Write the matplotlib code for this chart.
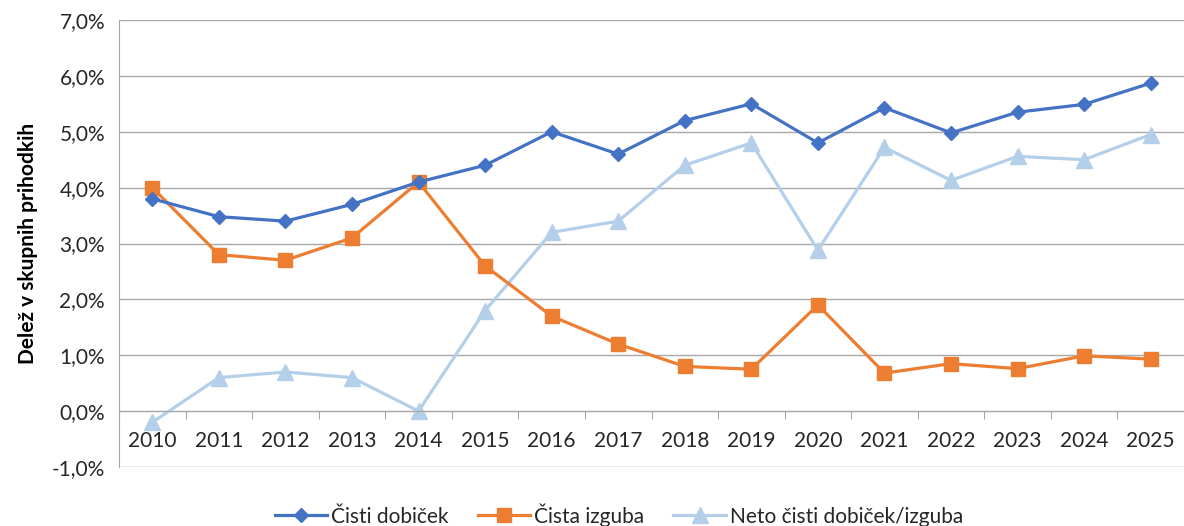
import numpy as np
import matplotlib.pyplot as plt
from matplotlib.ticker import FixedLocator, FuncFormatter

plt.rcParams['font.family'] = ['Lato', 'DejaVu Sans']

years = [str(y) for y in range(2010, 2026)]
cisti_dobicek = [3.8, 3.48, 3.4, 3.7, 4.1, 4.4, 5.0, 4.6, 5.2, 5.5,
                 4.8, 5.43, 4.98, 5.35, 5.49, 5.87]
cista_izguba = [4.0, 2.8, 2.7, 3.1, 4.1, 2.6, 1.7, 1.2, 0.8, 0.75,
                1.9, 0.68, 0.85, 0.76, 0.99, 0.93]
neto = [-0.2, 0.6, 0.7, 0.6, 0.0, 1.8, 3.2, 3.4, 4.4, 4.8,
        2.88, 4.72, 4.13, 4.56, 4.5, 4.95]

blue = '#4472C4'
orange = '#ED7D31'
light = '#B4CFE9'
grid = '#A8A8A8'
txt = '#262626'

fig = plt.figure(figsize=(11.84, 5.26), dpi=100)
ax = fig.add_axes([119/1184, 1 - 467/526, 1 - 119/1184, (467 - 20)/526])

x = np.arange(len(years))
ax.plot(x, cisti_dobicek, color=blue, lw=2.3, marker='D', ms=7.5,
        label='Čisti dobiček', zorder=4)
ax.plot(x, cista_izguba, color=orange, lw=2.3, marker='s', ms=10,
        label='Čista izguba', zorder=3)
ax.plot(x, neto, color=light, lw=2.3, marker='^', ms=11,
        label='Neto čisti dobiček/izguba', zorder=2)

ax.set_xlim(-0.5, len(years) - 0.5)
ax.set_ylim(-1, 7)
ax.set_yticks(np.arange(-1, 8, 1))
ax.yaxis.set_major_formatter(FuncFormatter(lambda v, p: f'{v:.1f}%'.replace('.', ',')))
ax.grid(axis='y', color=grid, lw=1)
ax.set_axisbelow(True)

for s in ['top', 'right']:
    ax.spines[s].set_visible(False)
ax.spines['left'].set_color(grid)
ax.spines['bottom'].set_position(('data', 0))
ax.spines['bottom'].set_color(grid)

# ticks between categories, labels at the category centres
ax.xaxis.set_major_locator(FixedLocator(np.arange(-0.5, len(years) + 0.5, 1)))
ax.xaxis.set_major_formatter(FuncFormatter(lambda v, p: ''))
ax.set_xticks(x, years, minor=True)
ax.tick_params(axis='x', which='major', length=6, color=grid, direction='out')
ax.tick_params(axis='x', which='minor', length=0, pad=14, labelsize=15, labelcolor=txt)
ax.tick_params(axis='y', length=0, pad=10, labelsize=15, labelcolor=txt)

ax.set_ylabel('Delež v skupnih prihodkih', fontsize=15, fontweight='bold',
              color='black', labelpad=10)

ax.legend(loc='center', bbox_to_anchor=(619/1184, 1 - 515/526), ncol=3,
          frameon=False, fontsize=15, handlelength=2.5, handletextpad=0.2,
          columnspacing=1.4, labelcolor=txt, bbox_transform=fig.transFigure)

fig.savefig('out.png', dpi=100)
